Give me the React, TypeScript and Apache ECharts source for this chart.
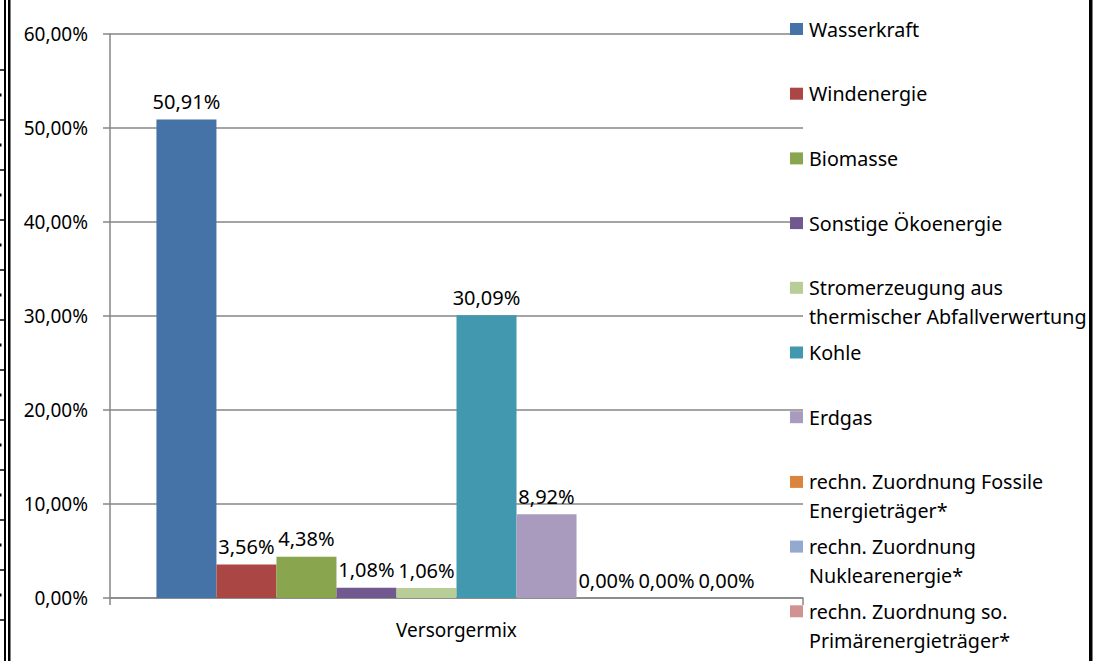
import React, { useEffect, useRef } from "react";
import * as echarts from "echarts";

const categories = ["Versorgermix"];
const seriesNames = [
  "Wasserkraft",
  "Windenergie",
  "Biomasse",
  "Sonstige Ökoenergie",
  "Stromerzeugung aus\nthermischer Abfallverwertung",
  "Kohle",
  "Erdgas",
  "rechn. Zuordnung Fossile\nEnergieträger*",
  "rechn. Zuordnung\nNuklearenergie*",
  "rechn. Zuordnung so.\nPrimärenergieträger*",
];
const seriesValues = [50.91, 3.56, 4.38, 1.08, 1.06, 30.09, 8.92, 0, 0, 0];
const seriesColors = [
  "#4572A7",
  "#AA4643",
  "#89A54E",
  "#71588F",
  "#B9CE96",
  "#4198AF",
  "#A99BBD",
  "#DB843D",
  "#93A9CF",
  "#D19392",
];
const yMin = 0;
const yMax = 60;
const yInterval = 10;

const FONT = "'Noto Sans', sans-serif";
const fmt = (v: number) => v.toFixed(2).replace(".", ",") + "%";

export default function App() {
  const ref = useRef<HTMLDivElement>(null);
  useEffect(() => {
    document.body.style.margin = "0";
    if (!ref.current) return;
    const chart = echarts.init(ref.current, null, { renderer: "svg" });

    const graphics: any[] = [];
    // frame lines (left double border with small marks, right border)
    graphics.push({ type: "rect", shape: { x: 4, y: 0, width: 2, height: 661 }, style: { fill: "#000" }, silent: true });
    graphics.push({ type: "rect", shape: { x: 8, y: 0, width: 2.5, height: 661 }, style: { fill: "#000" }, silent: true });
    graphics.push({ type: "rect", shape: { x: 1089, y: 0, width: 3.5, height: 661 }, style: { fill: "#000" }, silent: true });
    for (let k = 0; k < 12; k++) {
      graphics.push({ type: "line", shape: { x1: 0, y1: 70 + 50 * k, x2: 5, y2: 70 + 50 * k }, style: { stroke: "#000", lineWidth: 1.5 }, silent: true });
      if (k > 0) {
        graphics.push({ type: "rect", shape: { x: 0, y: 45 + 50 * k - 1.5, width: 1.5, height: 3 }, style: { fill: "#000" }, silent: true });
      }
    }
    // legend
    seriesNames.forEach((name, i) => {
      const cy = 29 + i * 64.7;
      graphics.push({ type: "rect", shape: { x: 790, y: cy - 6, width: 13, height: 12 }, style: { fill: seriesColors[i] }, z: 10 });
      graphics.push({
        type: "text",
        x: 809,
        y: cy - 14.5,
        style: { text: name, fill: "#000", fontSize: 19.7, fontFamily: FONT, lineHeight: 29, verticalAlign: "top", align: "left" },
        z: 10,
      });
    });

    chart.setOption({
      animation: false,
      backgroundColor: "#fff",
      grid: { left: 110, right: 1100 - 803, top: 34, bottom: 661 - 598, containLabel: false },
      xAxis: {
        type: "category",
        data: categories,
        axisLine: { show: true, lineStyle: { color: "#868686", width: 1.5 } },
        axisTick: { show: true, length: 7, lineStyle: { color: "#868686", width: 1.5 } },
        axisLabel: { color: "#000", fontSize: 19, fontFamily: FONT, margin: 22 },
      },
      yAxis: {
        type: "value",
        min: yMin,
        max: yMax,
        interval: yInterval,
        axisLine: { show: true, lineStyle: { color: "#868686", width: 1.5 } },
        axisTick: { show: true, length: 7, lineStyle: { color: "#868686", width: 1.5 } },
        splitLine: { show: true, lineStyle: { color: "#868686", width: 1.5 } },
        axisLabel: { color: "#000", fontSize: 19, fontFamily: FONT, margin: 22, formatter: (v: number) => fmt(v) },
      },
      series: seriesNames.map((name, i) => ({
        name,
        type: "bar",
        data: [seriesValues[i]],
        barGap: "0%",
        barCategoryGap: "13.4%",
        itemStyle: { color: seriesColors[i] },
        label: {
          show: true,
          position: "top",
          distance: 8,
          color: "#000",
          fontSize: 20,
          fontFamily: FONT,
          formatter: (p: any) => fmt(p.value),
        },
      })),
      graphic: graphics,
    });
    return () => chart.dispose();
  }, []);
  return <div ref={ref} style={{ width: 1100, height: 661 }} />;
}
